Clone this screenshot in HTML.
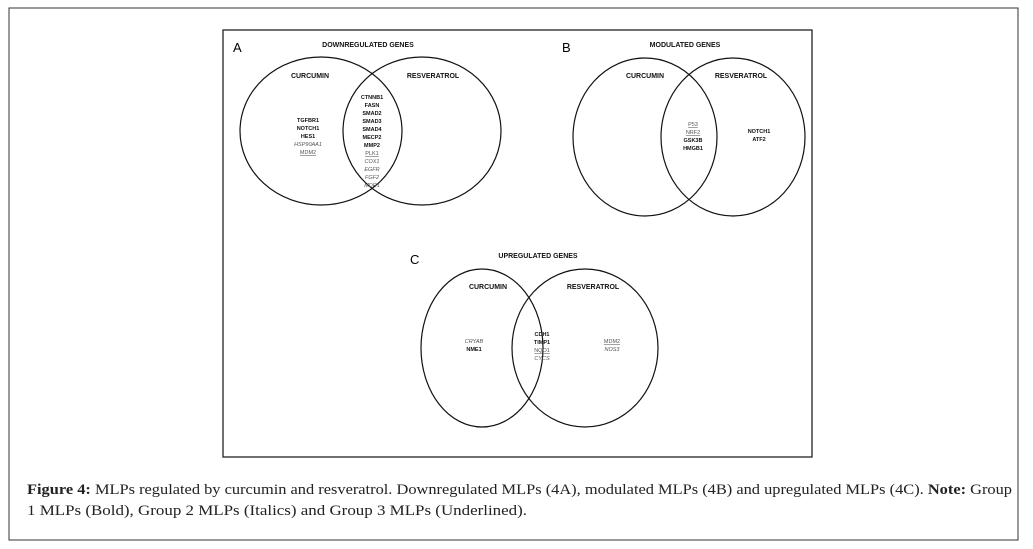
<!DOCTYPE html>
<html><head><meta charset="utf-8"><style>
html,body{margin:0;padding:0;background:#fff;}
svg{display:block}
</style></head><body>
<svg width="1033" height="549" viewBox="0 0 1033 549" xmlns="http://www.w3.org/2000/svg" font-family="Liberation Sans, sans-serif">
<rect x="9" y="8" width="1009" height="532" fill="none" stroke="#333" stroke-width="1"/>
<rect x="223" y="30" width="589" height="427" fill="none" stroke="#222" stroke-width="1.3"/>
<g fill="none" stroke="#111" stroke-width="1.2">
<ellipse cx="321" cy="131" rx="81" ry="74"/>
<ellipse cx="422" cy="131" rx="79" ry="74"/>
<ellipse cx="645" cy="137" rx="72" ry="79"/>
<ellipse cx="733" cy="137" rx="72" ry="79"/>
<ellipse cx="482" cy="348" rx="61" ry="79"/>
<ellipse cx="585" cy="348" rx="73" ry="79"/>
</g>
<g fill="#000" font-size="13"><text x="233" y="52">A</text><text x="562" y="52">B</text><text x="410" y="264">C</text></g>
<g font-size="7" font-weight="bold" text-anchor="middle" fill="#111">
<text x="368" y="47">DOWNREGULATED GENES</text>
<text x="310" y="78">CURCUMIN</text><text x="433" y="78">RESVERATROL</text>
<text x="685" y="47">MODULATED GENES</text>
<text x="645" y="78">CURCUMIN</text><text x="741" y="78">RESVERATROL</text>
<text x="538" y="258">UPREGULATED GENES</text>
<text x="488" y="289">CURCUMIN</text><text x="593" y="289">RESVERATROL</text>
</g>
<g font-size="5.5" text-anchor="middle" fill="#111">
<g font-weight="bold"><text x="308" y="122">TGFBR1</text><text x="308" y="130">NOTCH1</text><text x="308" y="138">HES1</text></g>
<text x="308" y="146" font-style="italic" fill="#555">HSP90AA1</text>
<text x="308" y="154" text-decoration="underline" fill="#555">MDM2</text>
<g font-weight="bold"><text x="372" y="99">CTNNB1</text><text x="372" y="107">FASN</text><text x="372" y="115">SMAD2</text><text x="372" y="123">SMAD3</text><text x="372" y="131">SMAD4</text><text x="372" y="139">MECP2</text><text x="372" y="147">MMP2</text></g>
<text x="372" y="155" text-decoration="underline" fill="#555">PLK1</text>
<g font-style="italic" fill="#555"><text x="372" y="163">COX1</text><text x="372" y="171">EGFR</text><text x="372" y="179">FGF2</text><text x="372" y="187">MDR1</text></g>
<g text-decoration="underline" fill="#555"><text x="693" y="126">P53</text><text x="693" y="134">NRF2</text></g>
<g font-weight="bold"><text x="693" y="142">GSK3B</text><text x="693" y="150">HMGB1</text><text x="759" y="133">NOTCH1</text><text x="759" y="141">ATF2</text></g>
<g font-weight="bold"><text x="542" y="336">CDH1</text><text x="542" y="344">TIMP1</text></g>
<text x="542" y="352" text-decoration="underline" fill="#555">NQO1</text>
<text x="542" y="360" font-style="italic" fill="#555">CYCS</text>
<text x="474" y="343" font-style="italic" fill="#555">CRYAB</text>
<text x="474" y="351" font-weight="bold">NME1</text>
<text x="612" y="343" text-decoration="underline" fill="#555">MDM2</text>
<text x="612" y="351" font-style="italic" fill="#555">NOS3</text>
</g>
<g font-family="Liberation Serif, serif" font-size="15" fill="#222">
<text x="27" y="494" textLength="985" lengthAdjust="spacingAndGlyphs"><tspan font-weight="bold">Figure 4:</tspan> MLPs regulated by curcumin and resveratrol. Downregulated MLPs (4A), modulated MLPs (4B) and upregulated MLPs (4C). <tspan font-weight="bold">Note:</tspan> Group</text>
<text x="27" y="515" textLength="500" lengthAdjust="spacingAndGlyphs">1 MLPs (Bold), Group 2 MLPs (Italics) and Group 3 MLPs (Underlined).</text>
</g>
</svg>
</body></html>
